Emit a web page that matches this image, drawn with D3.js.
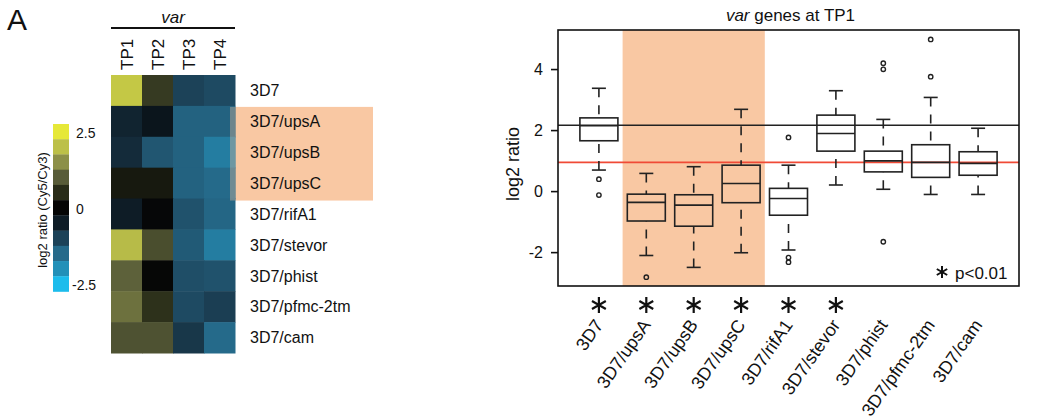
<!DOCTYPE html>
<html>
<head>
<meta charset="utf-8">
<script src="https://cdn.jsdelivr.net/npm/d3@7"></script>
<style>
  body { margin: 0; background: #fff; }
  text { font-family: "Liberation Sans", Arial, sans-serif; fill: #111; }
</style>
</head>
<body>
<script>
// heatmap data
var timePoints = ["TP1", "TP2", "TP3", "TP4"];
var geneSets = ["3D7", "3D7/upsA", "3D7/upsB", "3D7/upsC", "3D7/rifA1",
                "3D7/stevor", "3D7/phist", "3D7/pfmc-2tm", "3D7/cam"];
var heatValues = [
    [2.1, 0.65, -1.0, -1.1],
    [-0.6, -0.35, -1.4, -1.4],
    [-0.7, -1.25, -1.4, -1.75],
    [0.25, 0.25, -1.4, -1.5],
    [-0.5, -0.05, -1.2, -1.45],
    [1.95, 0.85, -1.3, -1.75],
    [1.05, 0.02, -1.15, -1.2],
    [1.2, 0.55, -1.1, -0.95],
    [0.9, 0.9, -0.85, -1.5]
];
var legendStops = [2.5, 2, 1.5, 1, 0.5, 0, -0.5, -1, -1.5, -2, -2.5];
var legendColors = ["#e6e838", "#bcc048", "#8c9048", "#585c38", "#282c18", "#050505",
                    "#0e1c26", "#1c4258", "#256a8a", "#2290b8", "#1cbcec"];
var legendTicks = [2.5, 0, -2.5];
var highlighted = ["3D7/upsA", "3D7/upsB", "3D7/upsC"];

// box plot data (TP1)
var whiskerHi = [3.37, 0.58, 0.80, 2.68, 0.85, 3.29, 2.35, 3.07, 2.06];
var q3 = [2.40, -0.10, -0.12, 0.85, 0.09, 2.49, 1.31, 1.52, 1.29];
var medians = [2.14, -0.37, -0.46, 0.25, -0.24, 1.89, 0.99, 0.94, 0.91];
var q1 = [1.65, -0.98, -1.15, -0.38, -0.79, 1.31, 0.63, 0.45, 0.52];
var whiskerLo = [0.69, -2.11, -2.50, -2.02, -1.93, 0.20, 0.06, -0.11, -0.11];
var outliers = [[0.39, -0.13], [-2.82], [], [], [1.76, -2.18, -2.33], [],
                [4.19, 3.99, -1.66], [4.97, 3.75], []];
var significant = [true, true, true, true, true, true, false, false, false];
var yTicks = [-2, 0, 2, 4];
var refLines = [2.16, 0.94];

var orange = "#f9c8a3";

var svg = d3.select("body").append("svg")
    .attr("width", 1039)
    .attr("height", 420);

svg.append("text")
    .attr("x", 7).attr("y", 30)
    .style("font-size", "30px")
    .text("A");

//Heatmap
var hx = d3.scaleBand().domain(timePoints).range([111, 235]);
var hy = d3.scaleBand().domain(geneSets).range([75, 353]);
var color = d3.scaleLinear().domain(legendStops).range(legendColors).clamp(true);

svg.append("rect")
    .attr("x", 235)
    .attr("y", hy(highlighted[0]) + 1)
    .attr("width", 138)
    .attr("height", hy.bandwidth() * highlighted.length + 1)
    .attr("fill", orange);

geneSets.forEach(function (g, i) {
    timePoints.forEach(function (t, j) {
        svg.append("rect")
            .attr("x", hx(t))
            .attr("y", hy(g))
            .attr("width", hx.bandwidth() + 0.5)
            .attr("height", hy.bandwidth() + 0.5)
            .attr("fill", color(heatValues[i][j]));
    });
});

svg.append("rect")
    .attr("x", 230)
    .attr("y", hy(highlighted[0]) + 1)
    .attr("width", 5)
    .attr("height", hy.bandwidth() * highlighted.length + 1)
    .attr("fill", orange)
    .attr("opacity", 0.35);

svg.selectAll(".rowlab").data(geneSets).enter().append("text")
    .attr("x", 250)
    .attr("y", function (d) { return hy(d) + hy.bandwidth() / 2; })
    .attr("dy", "0.36em")
    .style("font-size", "16px")
    .text(function (d) { return d; });

svg.selectAll(".collab").data(timePoints).enter().append("text")
    .attr("transform", function (d) {
        return "translate(" + (hx(d) + hx.bandwidth() / 2) + ",70) rotate(-90)";
    })
    .attr("dy", "0.36em")
    .style("font-size", "17px")
    .text(function (d) { return d; });

svg.append("line")
    .attr("x1", 111).attr("x2", 235)
    .attr("y1", 28).attr("y2", 28)
    .attr("stroke", "#111").attr("stroke-width", 2);
svg.append("text")
    .attr("x", 173).attr("y", 23)
    .attr("text-anchor", "middle")
    .style("font-size", "17px")
    .style("font-style", "italic")
    .text("var");

//Colour legend
var ly = d3.scaleBand().domain(legendStops).range([124, 291.5]);
svg.selectAll(".swatch").data(legendStops).enter().append("rect")
    .attr("x", 53)
    .attr("y", function (d) { return ly(d); })
    .attr("width", 16)
    .attr("height", ly.bandwidth() + 0.3)
    .attr("fill", function (d, i) { return legendColors[i]; });
svg.selectAll(".legtick").data(legendTicks).enter().append("text")
    .attr("x", function (d) { return d < 0 ? 72 : 76; })
    .attr("y", function (d) { return ly(d) + ly.bandwidth() / 2 + 1; })
    .attr("dy", "0.36em")
    .style("font-size", "14px")
    .text(function (d) { return d; });
svg.append("text")
    .attr("transform", "translate(42,210) rotate(-90)")
    .attr("text-anchor", "middle")
    .attr("dy", "0.36em")
    .style("font-size", "13px")
    .text("log2 ratio (Cy5/Cy3)");

//Box plot
var boxLeft = 558, boxRight = 1019, boxTop = 30, boxBottom = 286;
var x = d3.scalePoint().domain(geneSets).range([boxLeft, boxRight]).padding(0.863);
var y = d3.scaleLinear().domain([-3.11, 5.28]).range([boxBottom, boxTop]);
var step = x.step();
var boxW = 38, capW = 14;

svg.append("rect")
    .attr("x", x(highlighted[0]) - step / 2)
    .attr("y", boxTop)
    .attr("width", x(highlighted[2]) - x(highlighted[0]) + step)
    .attr("height", boxBottom - boxTop)
    .attr("fill", orange);

svg.selectAll(".ref").data(refLines).enter().append("line")
    .attr("x1", boxLeft).attr("x2", boxRight)
    .attr("y1", function (d) { return y(d); })
    .attr("y2", function (d) { return y(d); })
    .attr("stroke", function (d, i) { return i === 0 ? "#222" : "#f04a36"; })
    .attr("stroke-width", 1.6);

var ink = "#222";
geneSets.forEach(function (g, i) {
    var cx = x(g);
    var grp = svg.append("g");
    // whiskers, drawn from the cap towards the box
    [[whiskerHi[i], q3[i]], [whiskerLo[i], q1[i]]].forEach(function (w) {
        grp.append("line")
            .attr("x1", cx).attr("x2", cx)
            .attr("y1", y(w[0])).attr("y2", y(w[1]))
            .attr("stroke", ink).attr("stroke-width", 1.6)
            .attr("stroke-dasharray", "9,8");
        grp.append("line")
            .attr("x1", cx - capW / 2).attr("x2", cx + capW / 2)
            .attr("y1", y(w[0])).attr("y2", y(w[0]))
            .attr("stroke", ink).attr("stroke-width", 1.6);
    });
    grp.append("rect")
        .attr("x", cx - boxW / 2)
        .attr("y", y(q3[i]))
        .attr("width", boxW)
        .attr("height", y(q1[i]) - y(q3[i]))
        .attr("fill", "none")
        .attr("stroke", ink).attr("stroke-width", 1.6);
    grp.append("line")
        .attr("x1", cx - boxW / 2).attr("x2", cx + boxW / 2)
        .attr("y1", y(medians[i])).attr("y2", y(medians[i]))
        .attr("stroke", ink).attr("stroke-width", 1.6);
    grp.selectAll("circle").data(outliers[i]).enter().append("circle")
        .attr("cx", cx)
        .attr("cy", function (d) { return y(d); })
        .attr("r", 2.2)
        .attr("fill", "none")
        .attr("stroke", ink).attr("stroke-width", 1.4);
});

svg.append("rect")
    .attr("x", boxLeft).attr("y", boxTop)
    .attr("width", boxRight - boxLeft).attr("height", boxBottom - boxTop)
    .attr("fill", "none")
    .attr("stroke", "#111").attr("stroke-width", 1.6);

var yAxis = svg.append("g")
    .attr("transform", "translate(" + boxLeft + ",0)")
    .call(d3.axisLeft(y).tickValues(yTicks).tickSize(7).tickPadding(8)
        .tickFormat(function (d) { return String(d); }));
yAxis.select(".domain").remove();
yAxis.selectAll("line").attr("stroke", "#111").attr("stroke-width", 1.6);
yAxis.selectAll("text")
    .style("font-size", "16px")
    .style("font-family", "'Liberation Sans', Arial, sans-serif")
    .attr("fill", "#111");

svg.append("text")
    .attr("transform", "translate(513,164) rotate(-90)")
    .attr("text-anchor", "middle")
    .attr("dy", "0.36em")
    .style("font-size", "18px")
    .text("log2 ratio");

var title = svg.append("text")
    .attr("x", (boxLeft + boxRight) / 2 + 2).attr("y", 20.5)
    .attr("text-anchor", "middle")
    .style("font-size", "17px");
title.append("tspan").style("font-style", "italic").text("var");
title.append("tspan").text(" genes at TP1");

function asteriskPath(r) {
    var p = d3.path();
    for (var k = 0; k < 3; k++) {
        var a = Math.PI / 2 + k * Math.PI / 3;
        p.moveTo(r * Math.cos(a), r * Math.sin(a));
        p.lineTo(-r * Math.cos(a), -r * Math.sin(a));
    }
    return p.toString();
}

svg.selectAll(".star").data(geneSets.filter(function (d, i) { return significant[i]; }))
    .enter().append("path")
    .attr("transform", function (d) { return "translate(" + x(d) + ",305)"; })
    .attr("d", asteriskPath(8))
    .attr("fill", "none")
    .attr("stroke", "#111")
    .attr("stroke-width", 2.2);

svg.append("path")
    .attr("transform", "translate(942,272)")
    .attr("d", asteriskPath(6))
    .attr("fill", "none")
    .attr("stroke", "#111")
    .attr("stroke-width", 2);
svg.append("text")
    .attr("x", 955).attr("y", 279)
    .style("font-size", "17px")
    .text("p<0.01");

svg.selectAll(".xlab").data(geneSets).enter().append("text")
    .attr("transform", function (d) { return "translate(" + (x(d) + 5) + ",325) rotate(-55)"; })
    .attr("text-anchor", "end")
    .style("font-size", "18px")
    .text(function (d) { return d; });
</script>
</body>
</html>
